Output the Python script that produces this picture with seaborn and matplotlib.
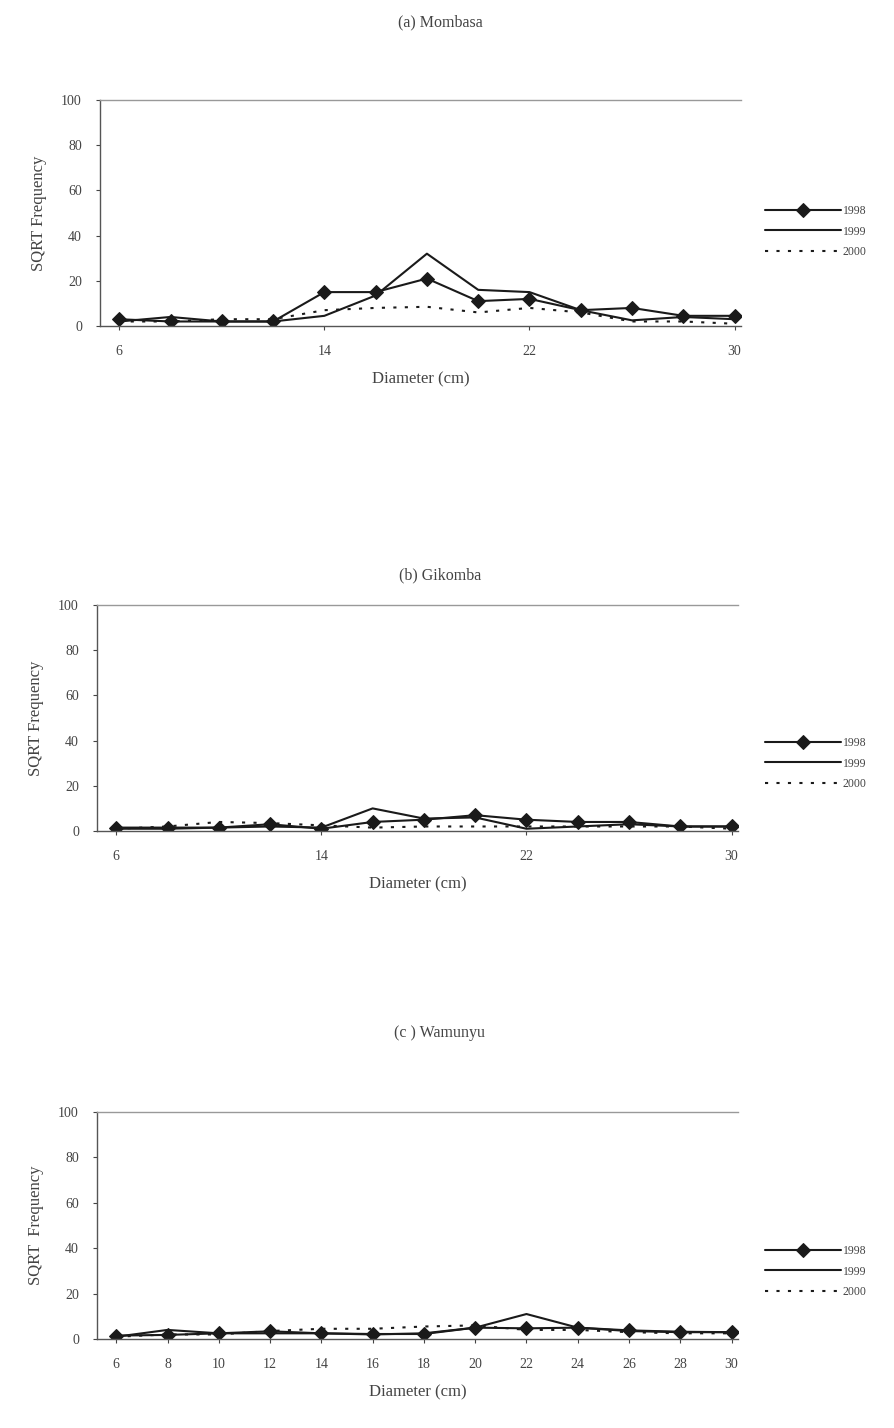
import matplotlib
matplotlib.use("Agg")
import matplotlib.pyplot as plt
import seaborn as sns
import pandas as pd

sns.set_theme(style="white")
plt.rcParams['font.family'] = ['Liberation Serif', 'DejaVu Serif']

diameter = [6, 8, 10, 12, 14, 16, 18, 20, 22, 24, 26, 28, 30]
years = ["1998", "1999", "2000"]

mombasa_1998 = [3, 2, 2, 2, 15, 15, 21, 11, 12, 7, 8, 4.5, 4.5]
mombasa_1999 = [2, 4, 2, 2, 4.5, 13.5, 32, 16, 15, 7, 2.5, 4, 3]
mombasa_2000 = [2, 2, 3, 3, 7, 8, 8.5, 6, 8, 6, 2, 2, 1]

gikomba_1998 = [1.5, 1.5, 1.5, 3, 1, 4, 5, 7, 5, 4, 4, 2, 2]
gikomba_1999 = [1, 1, 1.5, 2, 1.5, 10, 5.5, 6, 1, 2, 3, 2, 2]
gikomba_2000 = [1, 2, 4, 3.5, 2.5, 1.5, 2, 2, 2, 2, 2, 2, 1]

wamunyu_1998 = [1.5, 1.8, 2.5, 3.4, 2.5, 2.2, 2.2, 5, 4.7, 5, 3.8, 3.2, 3]
wamunyu_1999 = [1, 4, 2.5, 2.5, 2.5, 2, 2.5, 5, 11, 5, 3.5, 3, 3]
wamunyu_2000 = [1, 2, 2, 3.5, 4.5, 4.5, 5.5, 6, 4, 4, 3, 2.5, 2.5]

panels = [
    ("(a) Mombasa", "SQRT Frequency", [6, 14, 22, 30], [mombasa_1998, mombasa_1999, mombasa_2000]),
    ("(b) Gikomba", "SQRT Frequency", [6, 14, 22, 30], [gikomba_1998, gikomba_1999, gikomba_2000]),
    ("(c ) Wamunyu", "SQRT  Frequency", diameter, [wamunyu_1998, wamunyu_1999, wamunyu_2000]),
]

W, H = 895, 1428
fig = plt.figure(figsize=(W / 100, H / 100), dpi=100)

# pixel geometry: (left, top, right, bottom) of axes, title y, legend top y
geom = [
    (100, 100, 741, 326, 22, 210),
    (97, 605, 738, 831, 575, 742),
    (97, 1112, 738, 1339, 1033, 1250),
]

txt_col = "#444444"
styles = {
    "1998": dict(marker="D", markersize=7.5, linestyle="-", linewidth=1.5),
    "1999": dict(marker=None, linestyle="-", linewidth=1.5),
    "2000": dict(marker=None, linestyle=(0, (1.5, 4)), linewidth=1.5),
}

for (title, ylab, xt, series), (l, t, r, b, ty, ly) in zip(panels, geom):
    ax = fig.add_axes([l / W, 1 - b / H, (r - l) / W, (b - t) / H])
    df = pd.DataFrame({
        "Diameter": diameter * 3,
        "Value": series[0] + series[1] + series[2],
        "Year": [y for y in years for _ in diameter],
    })
    for y in years:
        sub = df[df["Year"] == y]
        st = styles[y]
        sns.lineplot(data=sub, x="Diameter", y="Value", ax=ax, color="#1a1a1a",
                     label=y, marker=st["marker"], markersize=st.get("markersize", 0),
                     linestyle=st["linestyle"], linewidth=st["linewidth"],
                     markeredgecolor="#1a1a1a", markerfacecolor="#1a1a1a")
    ax.set_xlim(5.25, 30.25)
    ax.set_ylim(0, 100)
    ax.set_yticks([0, 20, 40, 60, 80, 100])
    ax.set_xticks(xt)
    ax.tick_params(axis="both", labelsize=10, colors=txt_col, length=3, width=0.8,
                   direction="out", left=True, bottom=True)
    ax.tick_params(axis="x", pad=11)
    ax.tick_params(axis="y", pad=10)
    for s in ["left", "bottom"]:
        ax.spines[s].set_color("#555555")
        ax.spines[s].set_linewidth(1.0)
    ax.spines["top"].set_color("#999999")
    ax.spines["top"].set_linewidth(1.0)
    ax.spines["right"].set_visible(False)
    ax.set_xlabel("Diameter (cm)", fontsize=12, color=txt_col, labelpad=9)
    ax.set_ylabel(ylab, fontsize=12, color=txt_col, labelpad=10)
    fig.text(440 / W, 1 - ty / H, title, ha="center", va="center", fontsize=11.5, color=txt_col)
    leg = ax.legend(loc="upper left", bbox_to_anchor=((760 - l) / (r - l), 1 - (ly - 10 - t) / (b - t)),
                    frameon=False, fontsize=8.5, handlelength=6.5, handletextpad=0.1,
                    labelspacing=0.75, borderaxespad=0)
    for txt in leg.get_texts():
        txt.set_color(txt_col)

fig.savefig("out.png", dpi=100, facecolor="white")
